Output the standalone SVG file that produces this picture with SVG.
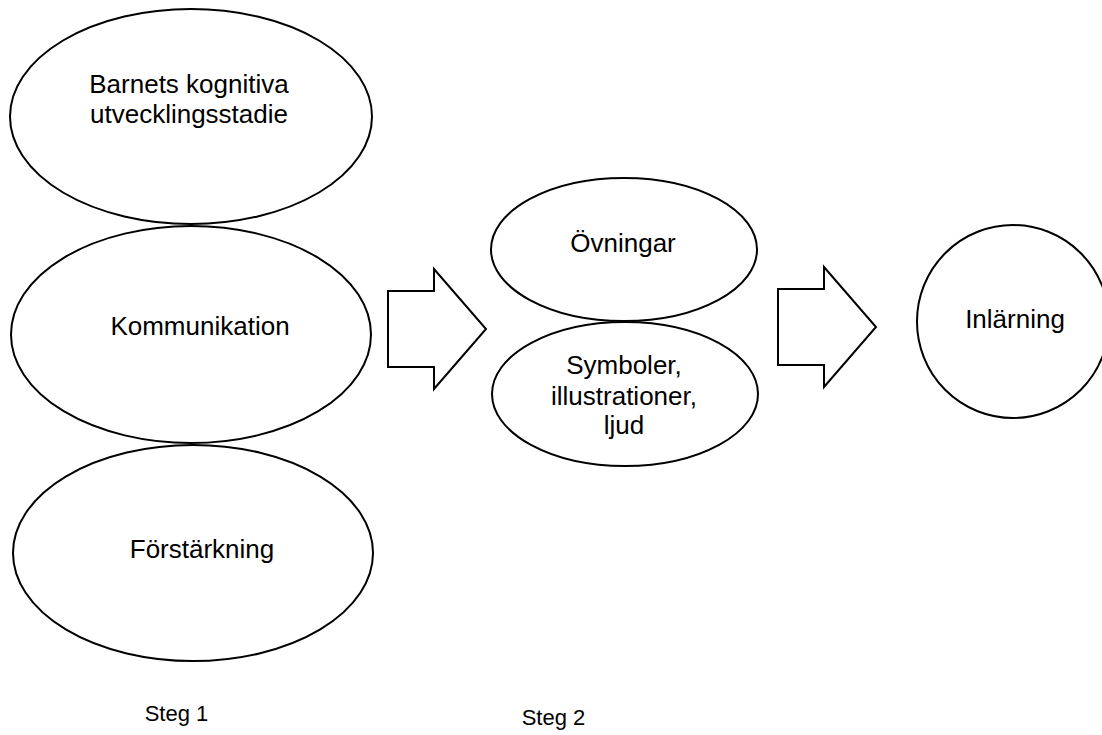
<svg xmlns="http://www.w3.org/2000/svg" width="1102" height="735" viewBox="0 0 1102 735">
<style>
.n{fill:#fff;stroke:#000;stroke-width:2}
.t{font-family:"Liberation Sans",Arial,sans-serif;font-size:26px;fill:#000;text-anchor:middle}
.s{font-family:"Liberation Sans",Arial,sans-serif;font-size:22px;fill:#000;text-anchor:middle}
</style>
<rect width="1102" height="735" fill="#fff"/>
<g id="n1"><ellipse class="n" cx="191" cy="116.5" rx="181" ry="107.5"/><text class="t" x="189" y="93">Barnets kognitiva</text><text class="t" x="189" y="123">utvecklingsstadie</text></g>
<g id="n2"><ellipse class="n" cx="191" cy="334.5" rx="180" ry="108.5"/><text class="t" x="200" y="335">Kommunikation</text></g>
<g id="n3"><ellipse class="n" cx="193" cy="553" rx="180" ry="108"/><text class="t" x="202" y="558">Förstärkning</text></g>
<g id="n4"><ellipse class="n" cx="624" cy="249.5" rx="133" ry="71.5"/><text class="t" x="623" y="252">Övningar</text></g>
<g id="n5"><ellipse class="n" cx="625" cy="394" rx="133" ry="72"/><text class="t" x="624" y="374">Symboler,</text><text class="t" x="624" y="405">illustrationer,</text><text class="t" x="624" y="434">ljud</text></g>
<g id="n6"><ellipse class="n" cx="1013" cy="321.5" rx="96" ry="96.5"/><text class="t" x="1015" y="328">Inlärning</text></g>
<g id="connectors">
<polygon class="n" points="388,291 434,291 434,269 486,329 434,389 434,367 388,367"/>
<polygon class="n" points="778,289 824,289 824,267 876,327 824,387 824,365 778,365"/>
</g>
<g id="labels"><text class="s" x="176.5" y="721">Steg 1</text><text class="s" x="553.5" y="725">Steg 2</text></g>
</svg>
